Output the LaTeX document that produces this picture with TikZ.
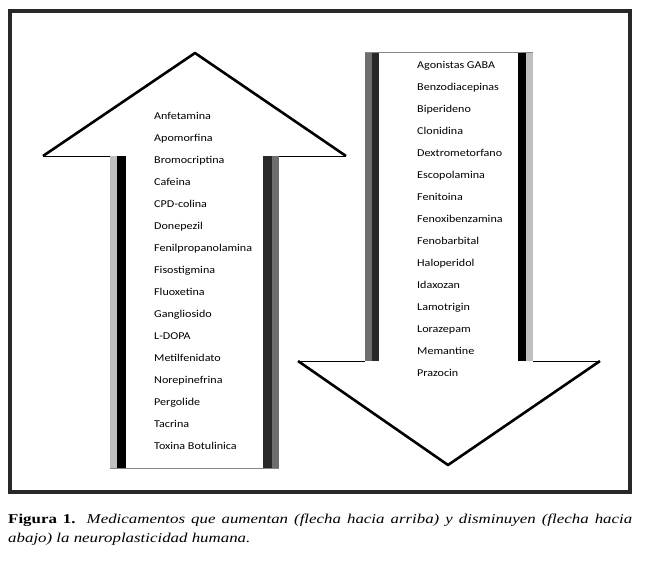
\documentclass[tikz,border=0pt]{standalone}
\usepackage{fontspec}
\setmainfont[FakeStretch=1.25]{Liberation Serif}
\newfontfamily\drugfont[FakeStretch=1.15]{Carlito}
\usetikzlibrary{positioning}
\definecolor{lightstrip}{HTML}{C0C0C0}
\definecolor{midstrip}{HTML}{6E6E6E}
\definecolor{darkstrip}{HTML}{282828}
\tikzset{x=1pt, y=-1pt, node distance=11.1pt}
\tikzstyle{frame} = [draw=darkstrip, line width=4pt]
\tikzstyle{headedge} = [draw=black, line width=2.6pt, line join=round]
\tikzstyle{baseedge} = [draw=black, line width=0.8pt]
\tikzstyle{endedge} = [draw=lightstrip!70!black, line width=0.8pt]
\tikzstyle{drug} = [anchor=north west, inner sep=0pt, text height=8pt, text depth=2.5pt, font=\drugfont\fontsize{10.5}{10.5}\selectfont]
\tikzstyle{caption} = [anchor=north west, inner sep=0pt, text width=624pt, align=justify, font=\fontsize{13.5}{19}\selectfont]

\begin{document}
\begin{tikzpicture}
    \useasboundingbox (0,0) rectangle (648,565);
    \draw [frame] (10,11) rectangle (630,492);

    % flecha hacia arriba
    \fill [lightstrip] (110,156) rectangle (117,468);
    \fill [black] (117,156) rectangle (126,468);
    \fill [darkstrip] (263,156) rectangle (272,468);
    \fill [midstrip] (272,156) rectangle (279,468);
    \draw [endedge] (110,468) -- (279,468);
    \draw [baseedge] (43,156) -- (110,156) (279,156) -- (346,156);
    \draw [headedge] (43,156) -- (195,53) -- (346,156);

    % flecha hacia abajo
    \fill [midstrip] (365,52) rectangle (372,361);
    \fill [darkstrip] (372,52) rectangle (379,361);
    \fill [black] (518,52) rectangle (526,361);
    \fill [lightstrip] (526,52) rectangle (533,361);
    \draw [endedge] (365,52) -- (533,52);
    \draw [baseedge] (298,361) -- (365,361) (533,361) -- (600,361);
    \draw [headedge] (298,361) -- (448,465) -- (600,361);

    \node [drug, anchor=base west] (anf) at (154,119) {Anfetamina};
    \node [below=of anf.south west, drug] (apo) {Apomorfina};
    \node [below=of apo.south west, drug] (bro) {Bromocriptina};
    \node [below=of bro.south west, drug] (caf) {Cafeina};
    \node [below=of caf.south west, drug] (cpd) {CPD-colina};
    \node [below=of cpd.south west, drug] (don) {Donepezil};
    \node [below=of don.south west, drug] (fen) {Fenilpropanolamina};
    \node [below=of fen.south west, drug] (fis) {Fisostigmina};
    \node [below=of fis.south west, drug] (flu) {Fluoxetina};
    \node [below=of flu.south west, drug] (gan) {Gangliosido};
    \node [below=of gan.south west, drug] (ldo) {L-DOPA};
    \node [below=of ldo.south west, drug] (met) {Metilfenidato};
    \node [below=of met.south west, drug] (nor) {Norepinefrina};
    \node [below=of nor.south west, drug] (per) {Pergolide};
    \node [below=of per.south west, drug] (tac) {Tacrina};
    \node [below=of tac.south west, drug] (tox) {Toxina Botulinica};

    \node [drug, anchor=base west] (aga) at (417,68) {Agonistas GABA};
    \node [below=of aga.south west, drug] (ben) {Benzodiacepinas};
    \node [below=of ben.south west, drug] (bip) {Biperideno};
    \node [below=of bip.south west, drug] (clo) {Clonidina};
    \node [below=of clo.south west, drug] (dex) {Dextrometorfano};
    \node [below=of dex.south west, drug] (esc) {Escopolamina};
    \node [below=of esc.south west, drug] (fto) {Fenitoina};
    \node [below=of fto.south west, drug] (fxb) {Fenoxibenzamina};
    \node [below=of fxb.south west, drug] (fba) {Fenobarbital};
    \node [below=of fba.south west, drug] (hal) {Haloperidol};
    \node [below=of hal.south west, drug] (ida) {Idaxozan};
    \node [below=of ida.south west, drug] (lam) {Lamotrigin};
    \node [below=of lam.south west, drug] (lor) {Lorazepam};
    \node [below=of lor.south west, drug] (mem) {Memantine};
    \node [below=of mem.south west, drug] (pra) {Prazocin};

    \node [caption] (cap) at (8,514) {\textbf{Figura 1.} \textit{Medicamentos que aumentan (flecha hacia arriba) y disminuyen (flecha hacia\linebreak abajo) la neuroplasticidad humana.}};
\end{tikzpicture}
\end{document}
